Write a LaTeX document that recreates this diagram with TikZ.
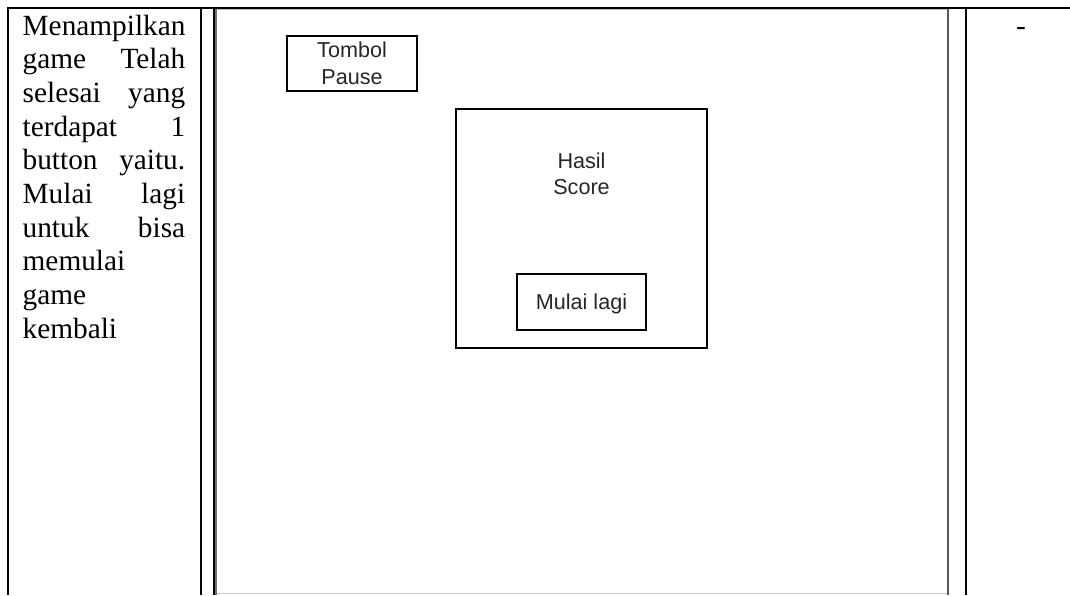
\documentclass[tikz,border=0pt]{standalone}
\usepackage{fontspec}
\setmainfont{Liberation Serif}
\newfontfamily\uisans{Liberation Sans}
\begin{document}
\begin{tikzpicture}[x=1pt,y=-1pt,
  tableline/.style={line width=2.2pt,black},
  uibox/.style={draw=black,line width=1.4pt,inner sep=0pt},
  uitext/.style={inner sep=0pt,text=black!85,font=\uisans\fontsize{21.6}{26.5}\selectfont,align=center},
  celltext/.style={inner sep=0pt,font=\fontsize{29.3}{33.67}\selectfont}]
\useasboundingbox (0,0) rectangle (1070,595);
% table lines
\draw[tableline] (7,8) -- (1070,8);
\draw[tableline] (8,7) -- (8,595);
\draw[tableline] (201,8) -- (201,595);
\draw[tableline] (214,8) -- (214,595);
\draw[tableline] (966,8) -- (966,595);
% image frame
\draw[black!25,line width=1pt] (215,9.8) -- (948,9.8);
\draw[black!20,line width=1pt] (215,593.5) -- (948,593.5);
\draw[black!55,line width=1.6pt] (216,9) -- (216,595);
\draw[black!65,line width=2pt] (947.5,9) -- (947.5,595);
% left cell text
\node[celltext,anchor=base west] (desc) at (22.5,35) {\parbox[t]{162.5pt}{\setlength\parindent{0pt}%
Menampilkan\par
\makebox[\linewidth][s]{game Telah}\par
\makebox[\linewidth][s]{selesai yang}\par
\makebox[\linewidth][s]{terdapat 1}\par
\makebox[\linewidth][s]{button yaitu.}\par
\makebox[\linewidth][s]{Mulai lagi}\par
\makebox[\linewidth][s]{untuk bisa}\par
memulai\par
game\par
kembali}};
% right cell
\node[celltext,anchor=base] (dash) at (1021,35) {-};
% UI mockup
\node[uibox,minimum width=130pt,minimum height=55pt] (pause) at (352,63.5) {};
\node[uitext] (pausetxt) at (pause.center) {Tombol\\Pause};
\node[uibox,minimum width=251pt,minimum height=239pt] (panel) at (581.5,228.5) {};
\node[uitext] (score) at (581.5,174) {Hasil\\Score};
\node[uibox,minimum width=129pt,minimum height=56pt] (restart) at (581.5,302) {};
\node[uitext,anchor=base] (restarttxt) at (581.5,309.5) {Mulai lagi};
\end{tikzpicture}
\end{document}
